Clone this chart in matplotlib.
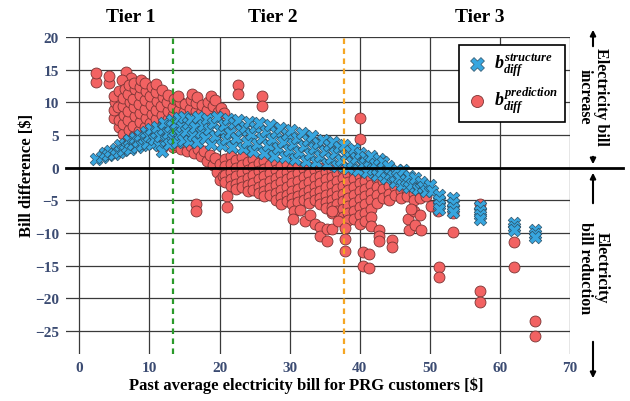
import numpy as np
import matplotlib
matplotlib.use("Agg")
import matplotlib.pyplot as plt

# b_diff^structure points (past bill, bill difference)
structure_pts = [
    (2.4, 1.3), (3.3, 1.7), (3.6, 2.2), (4.1, 1.9), (4.4, 2.6), (4.9, 2.1), (5.2, 2.9), (5.6, 2.4),
    (5.8, 3.4), (6.2, 2.7), (6.5, 3.7), (6.8, 3.1), (7.1, 4.2), (7.3, 2.8), (7.6, 3.6), (7.9, 4.6),
    (8.2, 3.2), (8.4, 4.1), (8.7, 5.0), (8.9, 3.5), (9.2, 4.5), (9.5, 5.4), (9.7, 3.8), (10.0, 4.9),
    (10.2, 5.9), (10.4, 3.6), (10.7, 4.4), (10.9, 5.5), (11.1, 6.3), (11.3, 3.4), (11.5, 4.8), (11.8, 2.6),
    (11.9, 5.9), (12.1, 6.8), (12.3, 4.2), (12.6, 5.3), (12.8, 3.7), (12.9, 6.4), (13.2, 7.3), (13.4, 4.6),
    (13.6, 5.8), (13.8, 6.9), (14.0, 3.9), (14.2, 7.6), (14.4, 5.1), (14.6, 6.4), (14.8, 4.3), (15.0, 7.8),
    (15.2, 5.6), (15.5, 6.8), (15.7, 4.1), (16.0, 7.5), (16.2, 5.0), (16.5, 6.2), (16.8, 3.9), (17.0, 7.7),
    (17.3, 5.4), (17.6, 6.6), (17.9, 4.5), (18.2, 7.4), (18.5, 5.9), (18.8, 3.6), (19.1, 6.9), (19.4, 4.9),
    (19.7, 7.8), (20.0, 5.7), (20.3, 3.4), (20.6, 6.5), (20.9, 4.4), (21.2, 7.5), (21.5, 5.3), (21.8, 3.2),
    (22.1, 6.8), (22.4, 4.6), (22.7, 7.3), (23.0, 5.7), (23.3, 3.0), (23.6, 6.3), (23.9, 4.0), (24.2, 7.0),
    (24.5, 5.1), (24.8, 2.6), (25.1, 6.2), (25.4, 3.7), (25.7, 6.8), (26.0, 4.6), (26.3, 2.2), (26.6, 5.6),
    (26.9, 3.4), (27.2, 6.5), (27.5, 4.4), (27.8, 1.8), (28.1, 5.5), (28.4, 3.0), (28.7, 6.1), (29.0, 4.0),
    (29.3, 1.6), (29.6, 5.1), (29.9, 2.7), (30.2, 5.7), (30.5, 3.7), (30.8, 1.3), (31.1, 4.6), (31.4, 2.4),
    (31.7, 5.3), (32.0, 3.3), (32.3, 1.0), (32.6, 4.2), (32.9, 2.1), (33.2, 4.8), (33.5, 3.0), (33.8, 0.8),
    (34.1, 3.8), (34.4, 1.8), (34.7, 4.3), (35.0, 2.6), (35.3, 0.6), (35.6, 3.4), (35.9, 1.5), (36.2, 3.9),
    (36.5, 2.2), (36.8, 0.3), (37.1, 3.1), (37.4, 1.2), (37.7, 3.4), (38.0, 1.9), (38.3, 0.0), (38.6, 2.6),
    (38.9, 0.9), (39.2, 2.9), (39.5, 1.5), (39.8, -0.3), (40.1, 2.2), (40.4, 0.6), (40.7, 1.7), (41.0, -0.6),
    (41.3, 1.0), (41.6, 1.8), (41.9, -0.2), (42.2, 0.5), (42.5, -1.1), (42.8, 1.3), (43.1, -0.5), (43.3, 0.9),
    (43.7, -1.6), (44.0, 0.2), (44.3, -0.9), (44.7, -1.2), (45.0, -2.2), (45.3, -0.3), (45.6, -1.6), (46.0, -2.7),
    (46.2, -0.4), (46.6, -1.9), (47.0, -1.2), (47.1, -2.9), (47.5, -2.5), (47.9, -1.6), (48.3, -3.2), (48.8, -2.2),
    (49.0, -2.9), (49.5, -3.6), (50.0, -2.6), (50.3, -3.5),
    (51.3, -4.1), (51.3, -4.9), (51.3, -5.7), (51.3, -6.3), (53.3, -4.6), (53.3, -5.4), (53.3, -6.1), (53.3, -6.8),
    (57.1, -5.9), (57.1, -6.6), (57.1, -7.3), (57.1, -7.9), (62.0, -8.4), (62.0, -9.0), (62.0, -9.6),
    (65.0, -9.6), (65.0, -10.2), (65.0, -10.6),
]

# b_diff^prediction points
prediction_pts = [
    # tier 1 cloud
    (2.4, 13.1), (2.4, 14.5), (4.2, 12.9), (4.2, 14.1), (6.6, 14.6), (7.4, 13.8), (6.1, 13.4),
    (5.0, 7.6), (5.0, 8.8), (5.1, 10.0), (4.9, 10.9),
    (5.6, 6.3), (5.7, 7.3), (5.5, 9.3), (5.7, 11.7),
    (6.3, 5.2), (6.2, 6.7), (6.4, 8.0), (6.3, 9.5), (6.2, 10.7), (6.5, 12.0),
    (7.0, 4.4), (7.1, 5.8), (6.9, 7.3), (7.0, 8.7), (7.2, 10.0), (7.0, 11.3), (7.1, 12.6),
    (7.8, 4.9), (7.7, 6.4), (7.9, 7.9), (7.8, 9.3), (7.7, 10.5), (7.9, 12.0), (7.8, 13.0),
    (8.6, 4.2), (8.5, 5.6), (8.7, 7.0), (8.6, 8.4), (8.5, 9.8), (8.7, 11.1), (8.6, 12.4), (8.8, 13.4),
    (9.4, 4.8), (9.3, 6.2), (9.5, 7.6), (9.4, 9.0), (9.3, 10.4), (9.5, 11.8), (9.4, 12.9),
    (10.2, 5.4), (10.1, 6.9), (10.3, 8.2), (10.2, 9.6), (10.1, 11.0), (10.3, 12.3),
    (11.0, 4.6), (11.1, 6.0), (10.9, 7.4), (11.0, 8.8), (11.1, 10.2), (10.9, 11.6), (11.0, 12.8),
    (11.8, 3.0), (11.7, 5.2), (11.9, 6.7), (11.8, 8.1), (11.7, 9.5), (11.9, 10.8), (11.8, 11.9),
    (12.6, 4.0), (12.5, 5.8), (12.7, 7.4), (12.6, 8.7), (12.5, 10.0), (12.7, 11.2),
    (13.4, 3.2), (13.3, 4.6), (13.5, 6.4), (13.4, 8.0), (13.3, 9.3), (13.5, 10.5),
    # above the structure band, tier 2 start
    (14.2, 8.8), (14.3, 10.0), (14.1, 10.9), (15.0, 8.6), (15.1, 9.8), (15.8, 9.0), (15.9, 10.3), (16.1, 11.3),
    (16.7, 8.7), (16.6, 9.9), (16.8, 10.8), (17.4, 8.4), (17.5, 9.6), (18.2, 8.9), (18.3, 10.1), (18.8, 11.0),
    (19.1, 9.4), (19.3, 10.4), (19.8, 8.6), (20.2, 9.2), (20.6, 8.4),
    # below the structure band
    (13.8, 3.4), (14.5, 2.9), (14.8, 4.0), (15.3, 2.6), (15.9, 3.3), (16.3, 2.2), (16.9, 2.9), (17.3, 1.8),
    (17.8, 2.6), (18.2, 1.1), (18.6, 2.0), (19.0, 0.4), (19.3, 1.5), (19.6, -0.6), (20.0, -1.9), (20.1, 0.6),
    (20.5, -1.2),
    (20.8, 1.4), (20.8, 0.2), (20.8, -1.1), (20.8, -2.2),
    (21.6, 1.8), (21.6, 0.6), (21.6, -0.6), (21.6, -1.8), (21.6, -2.8),
    (22.4, 1.2), (22.4, 0.0), (22.4, -1.3), (22.4, -2.5), (22.4, -3.3),
    (23.2, 1.6), (23.2, 0.4), (23.2, -0.8), (23.2, -2.0), (23.2, -3.0),
    (24.0, 0.9), (24.0, -0.3), (24.0, -1.5), (24.0, -2.6), (24.0, -3.5),
    (24.8, 1.3), (24.8, 0.1), (24.8, -1.1), (24.8, -2.3), (24.8, -3.4),
    (25.6, 0.7), (25.6, -0.5), (25.6, -1.7), (25.6, -2.9), (25.6, -3.9),
    (26.4, 1.0), (26.4, -0.2), (26.4, -1.3), (26.4, -2.5), (26.4, -3.6), (26.4, -4.3),
    (27.2, 0.4), (27.2, -0.8), (27.2, -2.0), (27.2, -3.1), (27.2, -4.2),
    (28.0, 0.8), (28.0, -0.4), (28.0, -1.6), (28.0, -2.7), (28.0, -3.8), (28.0, -4.9),
    (28.8, 0.2), (28.8, -1.0), (28.8, -2.2), (28.8, -3.4), (28.8, -4.5), (28.8, -5.6),
    (29.6, 0.5), (29.6, -0.6), (29.6, -1.8), (29.6, -3.0), (29.6, -4.1), (29.6, -5.1),
    (30.4, 0.0), (30.4, -1.2), (30.4, -2.4), (30.4, -3.5), (30.4, -4.7), (30.4, -5.5),
    (31.2, 0.3), (31.2, -0.8), (31.2, -2.0), (31.2, -3.2), (31.2, -4.3), (31.2, -5.3),
    (32.0, -0.2), (32.0, -1.4), (32.0, -2.6), (32.0, -3.8), (32.0, -4.9),
    (32.8, 0.1), (32.8, -1.0), (32.8, -2.2), (32.8, -3.4), (32.8, -4.5), (32.8, -5.4),
    (33.6, -0.4), (33.6, -1.6), (33.6, -2.8), (33.6, -3.9), (33.6, -5.0),
    (34.4, -0.1), (34.4, -1.2), (34.4, -2.4), (34.4, -3.6), (34.4, -4.7), (34.4, -5.6),
    (35.2, -0.6), (35.2, -1.8), (35.2, -3.0), (35.2, -4.1), (35.2, -5.2), (35.2, -6.1),
    (36.0, -0.3), (36.0, -1.4), (36.0, -2.6), (36.0, -3.8), (36.0, -4.9), (36.0, -6.0), (36.0, -7.0),
    (36.8, -0.8), (36.8, -2.0), (36.8, -3.2), (36.8, -4.4), (36.8, -5.5), (36.8, -6.6),
    (37.6, -0.4), (37.6, -1.6), (37.6, -2.8), (37.6, -4.0), (37.6, -5.1), (37.6, -6.3), (37.6, -7.5),
    (38.4, -1.0), (38.4, -2.2), (38.4, -3.4), (38.4, -4.6), (38.4, -5.8), (38.4, -7.0), (38.4, -8.0),
    (39.2, -0.6), (39.2, -1.8), (39.2, -3.0), (39.2, -4.2), (39.2, -5.4), (39.2, -6.6), (39.2, -7.8),
    (40.0, -1.2), (40.0, -2.4), (40.0, -3.6), (40.0, -4.8), (40.0, -6.0), (40.0, -7.2), (40.0, -8.6),
    (40.8, -0.9), (40.8, -2.0), (40.8, -3.2), (40.8, -4.4), (40.8, -5.6), (40.8, -7.0), (40.8, -8.2),
    (41.6, -1.4), (41.6, -2.6), (41.6, -3.8), (41.6, -5.0), (41.6, -6.3), (41.6, -7.6), (41.6, -8.9),
    (42.4, -1.8), (42.4, -3.0), (42.4, -4.2), (42.4, -5.4),
    (43.3, -2.1), (43.3, -3.3), (43.3, -4.6), (44.2, -2.8), (44.2, -4.0), (44.2, -4.9),
    (45.1, -3.0), (45.1, -4.2), (45.9, -3.6), (45.9, -4.6), (46.8, -3.4), (46.8, -4.4),
    (47.7, -4.0), (47.7, -5.0), (48.6, -3.8), (48.6, -4.6), (49.5, -4.3),
    # scattered points
    (16.7, -5.5), (16.7, -6.6), (21.0, -4.4), (21.0, -6.0),
    (22.6, 12.6), (22.6, 11.3), (26.1, 11.0), (26.1, 9.5), (40.0, 7.6), (40.0, 4.4),
    (30.6, -6.6), (30.5, -7.8), (31.5, -6.4), (32.2, -8.2), (32.9, -7.3), (33.6, -8.6), (34.3, -9.0),
    (34.4, -10.5), (35.4, -9.4), (35.4, -11.2), (36.1, -9.3), (36.1, -6.6), (36.9, -8.1),
    (37.9, -9.2), (37.9, -10.9), (37.9, -12.8), (40.5, -12.9), (41.3, -13.2), (40.5, -15.0), (41.3, -15.4),
    (42.7, -9.6), (42.7, -10.4), (42.8, -11.2), (44.6, -11.0), (44.6, -12.1),
    (46.9, -7.8), (47.1, -9.6), (47.8, -6.6), (47.9, -8.8), (48.8, -9.6), (48.6, -7.3), (47.3, -6.3),
    (50.2, -5.8), (51.2, -6.6), (51.3, -15.2), (51.3, -16.7), (53.3, -7.0), (53.3, -9.8),
    (57.1, -5.6), (57.1, -18.8), (57.1, -20.5), (62.0, -11.3), (62.0, -15.2), (65.0, -23.4), (65.0, -25.7),
]

tier_bounds = [13.3, 37.7]
tier_names = ["Tier 1", "Tier 2", "Tier 3"]
tier_label_x = [7.4, 27.6, 57.1]
x_ticks = [0, 10, 20, 30, 40, 50, 60, 70]
y_ticks = [-25, -20, -15, -10, -5, 0, 5, 10, 15, 20]


def main():
    plt.rcParams['font.family'] = 'Liberation Serif'
    plt.rcParams['font.weight'] = 'bold'
    plt.rcParams['mathtext.fontset'] = 'custom'
    plt.rcParams['mathtext.rm'] = 'Liberation Serif:bold'
    plt.rcParams['mathtext.it'] = 'Liberation Serif:bold:italic'
    plt.rcParams['mathtext.bf'] = 'Liberation Serif:bold'

    s = np.array(structure_pts)
    p = np.array(prediction_pts)

    fig = plt.figure(figsize=(6.3, 4.02), dpi=100)
    ax = fig.add_axes([66 / 630, 47 / 402, 504 / 630, 317 / 402])

    ax.scatter(p[:, 0], p[:, 1], s=62, marker='o', color='#f26262',
               edgecolors='#7a3434', linewidths=0.6, zorder=3,
               label=r'$b_{diff}^{prediction}$')
    ax.scatter(s[:, 0], s[:, 1], s=82, marker='X', color='#37a6df',
               edgecolors='#2b4f66', linewidths=0.5, zorder=4,
               label=r'$b_{diff}^{structure}$')

    ax.set_xlim(-1.9, 70)
    ax.set_ylim(-28.5, 20)
    ax.set_xticks(x_ticks)
    ax.set_yticks(y_ticks)
    ax.grid(True, color='#3a3a3a', linewidth=0.9, zorder=0)
    ax.set_axisbelow(True)
    for sp in ax.spines.values():
        sp.set_visible(False)
    ax.tick_params(length=0, labelsize=11, labelcolor='#3b4b72', pad=5)
    for lab in ax.get_xticklabels() + ax.get_yticklabels():
        lab.set_fontweight('bold')

    # zero line runs past the axes into the annotation column
    ax.axhline(0, xmin=0, xmax=(623 - 66) / 504, color='black', linewidth=2.0,
               clip_on=False, zorder=5)

    ax.axvline(tier_bounds[0], color='#2a9a2a', linestyle=(0, (2.5, 2)), linewidth=1.6, zorder=6)
    ax.axvline(tier_bounds[1], color='#f5a623', linestyle=(0, (2.5, 2)), linewidth=1.6, zorder=6)

    for name, xpos in zip(tier_names, tier_label_x):
        ax.text(xpos, 23.1, name, ha='center', va='center', fontsize=14,
                fontweight='bold', clip_on=False)

    ax.set_xlabel(r'Past average electricity bill for PRG customers [\$]', fontsize=12,
                  fontweight='bold')
    ax.xaxis.set_label_coords(0.476, -0.072)
    ax.set_ylabel(r'Bill difference [\$]', fontsize=12, fontweight='bold')
    ax.yaxis.set_label_coords(-0.062, 0.568)

    handles, labels = ax.get_legend_handles_labels()
    leg = ax.legend(handles[::-1], labels[::-1], loc='upper right',
                    bbox_to_anchor=(0.99, 0.975), borderaxespad=0, fontsize=13,
                    frameon=True, fancybox=False, edgecolor='black', framealpha=1,
                    borderpad=0.4, handletextpad=0.3, labelspacing=0.35,
                    handlelength=1.2, markerscale=1.1)
    leg.get_frame().set_linewidth(1.2)

    # right-hand annotations
    ax_x = 593 / 630
    def fy(py):
        return 1 - py / 402
    arrow = dict(arrowstyle='-|>', color='black', lw=1.5, mutation_scale=8)
    fig.patches.append(matplotlib.patches.FancyArrowPatch(
        (ax_x, fy(50)), (ax_x, fy(28)), transform=fig.transFigure, **arrow))
    fig.patches.append(matplotlib.patches.FancyArrowPatch(
        (ax_x, fy(155)), (ax_x, fy(168)), transform=fig.transFigure, **arrow))
    fig.patches.append(matplotlib.patches.FancyArrowPatch(
        (ax_x, fy(207)), (ax_x, fy(171)), transform=fig.transFigure, **arrow))
    fig.patches.append(matplotlib.patches.FancyArrowPatch(
        (ax_x, fy(340)), (ax_x, fy(382)), transform=fig.transFigure, **arrow))
    fig.text(ax_x, fy(97), 'Electricity bill\nincrease', rotation=-90, ha='center',
             va='center', fontsize=11.5, fontweight='bold', multialignment='center',
             linespacing=1.05)
    fig.text(ax_x, fy(268), 'Electricity\nbill reduction', rotation=-90, ha='center',
             va='center', fontsize=11.5, fontweight='bold', multialignment='center',
             linespacing=1.05)

    fig.savefig('out.png', dpi=100)


if __name__ == "__main__":
    main()
